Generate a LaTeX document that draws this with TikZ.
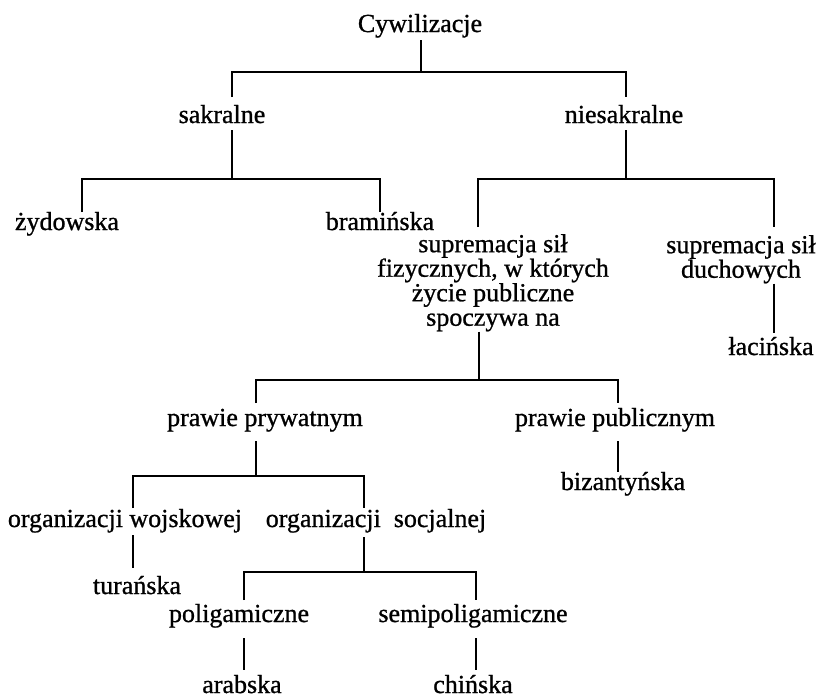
\documentclass[tikz,border=0pt]{standalone}
\usepackage{fontspec}
\setmainfont{Liberation Serif}[FakeBold=0.9]
\usetikzlibrary{positioning}
\tikzset{
   lbl/.style = {inner sep=0pt, anchor=base,
                 font=\fontsize{26}{24.5}\selectfont},   % <--- plain text label
   blk/.style = {lbl, anchor=north, align=center},      % <--- multi-line label
  conn/.style = {line width=1.9pt},
        }
\begin{document}
\begin{tikzpicture}[x=1pt,y=-1pt]
\useasboundingbox (0,0) rectangle (818,697);
% labels
\node[lbl] (cyw)  at (420,32)  {Cywilizacje};
\node[lbl] (sak)  at (222,123) {sakralne};
\node[lbl] (nsak) at (624,123) {niesakralne};
\node[lbl] (zyd)  at (67,230)  {żydowska};
\node[lbl] (bram) at (380,230) {bramińska};
\node[blk] (supf) at (493,234) {supremacja sił\\fizycznych, w których\\życie publiczne\\spoczywa na};
\node[blk] (supd) at (741,235) {supremacja sił\\duchowych};
\node[lbl] (lac)  at (771,355) {łacińska};
\node[lbl] (ppry) at (265,426) {prawie prywatnym};
\node[lbl] (ppub) at (615,426) {prawie publicznym};
\node[lbl] (biz)  at (623,490) {bizantyńska};
\node[lbl] (owoj) at (125,527) {organizacji wojskowej};
\node[lbl] (osoc) at (376,527) {organizacji\ \ socjalnej};
\node[lbl] (tur)  at (137,594) {turańska};
\node[lbl] (poli) at (239,622) {poligamiczne};
\node[lbl] (semi) at (473,622) {semipoligamiczne};
\node[lbl] (arab) at (242,693) {arabska};
\node[lbl] (chin) at (473,693) {chińska};
% forks
\draw[conn] ([shift={(1,8)}]cyw.base) -- ++(0,32) coordinate (j0);
\draw[conn] ([shift={(10,-26)}]sak.base) |- (j0) -| ([shift={(2,-26)}]nsak.base);
\draw[conn] ([shift={(10,7)}]sak.base) -- ++(0,49) coordinate (j1);
\draw[conn] ([shift={(15,-18)}]zyd.base) |- (j1) -| ([shift={(0,-18)}]bram.base);
\draw[conn] ([shift={(2,7)}]nsak.base) -- ++(0,49) coordinate (j2);
\draw[conn] ([shift={(-15,-7)}]supf.north) |- (j2) -| ([shift={(33,-8)}]supd.north);
\draw[conn] ([shift={(33,0)}]supd.south) -- ([shift={(3,-22)}]lac.base);
\draw[conn] ([shift={(-14,0)}]supf.south) -- ++(0,48) coordinate (j3);
\draw[conn] ([shift={(-9,-23)}]ppry.base) |- (j3) -| ([shift={(3,-23)}]ppub.base);
\draw[conn] ([shift={(3,15)}]ppub.base) -- ([shift={(-5,-18)}]biz.base);
\draw[conn] ([shift={(-9,15)}]ppry.base) -- ++(0,35) coordinate (j4);
\draw[conn] ([shift={(8,-19)}]owoj.base) |- (j4) -| ([shift={(-12,-19)}]osoc.base);
\draw[conn] ([shift={(8,8)}]owoj.base) -- ([shift={(-4,-26)}]tur.base);
\draw[conn] ([shift={(-12,10)}]osoc.base) -- ++(0,35) coordinate (j5);
\draw[conn] ([shift={(5,-22)}]poli.base) |- (j5) -| ([shift={(3,-22)}]semi.base);
\draw[conn] ([shift={(5,16)}]poli.base) -- ([shift={(2,-23)}]arab.base);
\draw[conn] ([shift={(3,16)}]semi.base) -- ([shift={(3,-23)}]chin.base);
\end{tikzpicture}
\end{document}
